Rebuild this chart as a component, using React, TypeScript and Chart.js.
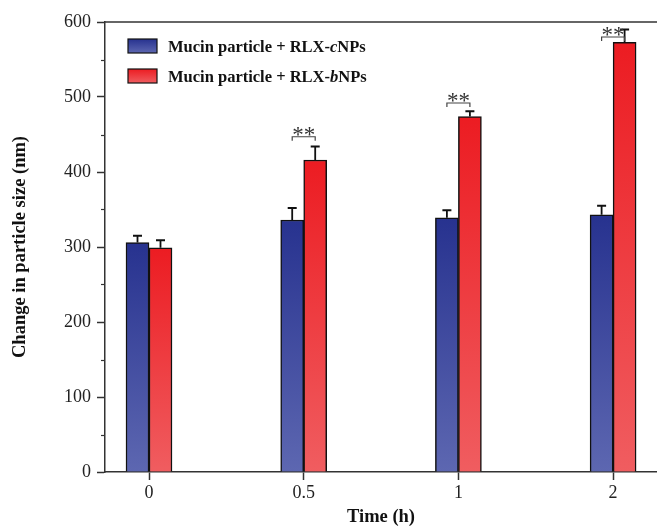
import React, { useEffect, useRef } from "react";
import { Chart, registerables } from "chart.js";

Chart.register(...registerables);

const categories = ["0", "0.5", "1", "2"];
const seriesNames = ["Mucin particle + RLX-", "Mucin particle + RLX-"];
const seriesItalic = ["c", "b"];
const seriesSuffix = ["NPs", "NPs"];
const cValues = [306, 336, 339, 343];
const cErrors = [9, 16, 10, 12];
const bValues = [299, 416, 474, 573];
const bErrors = [10, 18, 7, 17];
const sigLabels = ["", "**", "**", "**"];
const sigHeights = [null, 447, 492, 580];
const yTicks = [0, 100, 200, 300, 400, 500, 600];

const FONT = "'Liberation Serif', 'Times New Roman', serif";
const BLUE_TOP = "#27328f";
const BLUE_BOT = "#5d67b1";
const RED_TOP = "#ec1c22";
const RED_BOT = "#f05d60";

function gradFor(top: string, bot: string) {
  return (ctx: any) => {
    const chart = ctx.chart;
    const y = chart.scales?.y;
    if (!y || ctx.parsed == null || ctx.parsed.y == null) return top;
    const y0 = y.getPixelForValue(ctx.parsed.y);
    const y1 = y.getPixelForValue(0);
    if (!isFinite(y0) || !isFinite(y1) || y0 === y1) return top;
    const g = chart.ctx.createLinearGradient(0, y0, 0, y1);
    g.addColorStop(0, top);
    g.addColorStop(1, bot);
    return g;
  };
}

const overlayPlugin = {
  id: "overlay",
  afterDatasetsDraw(chart: any) {
    const { ctx, chartArea, scales } = chart;
    const x = scales.x;
    const y = scales.y;
    ctx.save();
    // top frame line
    ctx.strokeStyle = "#333";
    ctx.lineWidth = 1.5;
    ctx.beginPath();
    ctx.moveTo(chartArea.left, chartArea.top);
    ctx.lineTo(chart.width, chartArea.top);
    ctx.stroke();
    // minor y ticks
    ctx.lineWidth = 1.2;
    for (let i = 0; i < yTicks.length - 1; i++) {
      const v = (yTicks[i] + yTicks[i + 1]) / 2;
      const py = Math.round(y.getPixelForValue(v)) + 0.5;
      ctx.beginPath();
      ctx.moveTo(chartArea.left - 4, py);
      ctx.lineTo(chartArea.left, py);
      ctx.stroke();
    }
    // error bars
    const half = 11.5;
    const drawErr = (cx: number, v: number, e: number) => {
      const pTop = y.getPixelForValue(v + e);
      const pBar = y.getPixelForValue(v);
      ctx.strokeStyle = "#111";
      ctx.lineWidth = 1.8;
      ctx.beginPath();
      ctx.moveTo(cx, pBar);
      ctx.lineTo(cx, pTop);
      ctx.moveTo(cx - 4.5, pTop);
      ctx.lineTo(cx + 4.5, pTop);
      ctx.stroke();
    };
    for (let i = 0; i < categories.length; i++) {
      const cx = x.getPixelForValue(i);
      drawErr(cx - half, cValues[i], cErrors[i]);
      drawErr(cx + half, bValues[i], bErrors[i]);
      const h = sigHeights[i];
      if (h != null && sigLabels[i]) {
        const py = y.getPixelForValue(h);
        ctx.strokeStyle = "#444";
        ctx.lineWidth = 1.2;
        ctx.beginPath();
        ctx.moveTo(cx - half, py + 4);
        ctx.lineTo(cx - half, py);
        ctx.lineTo(cx + half, py);
        ctx.lineTo(cx + half, py + 4);
        ctx.stroke();
        ctx.fillStyle = "#333";
        ctx.font = `23px ${FONT}`;
        ctx.textAlign = "center";
        ctx.textBaseline = "alphabetic";
        ctx.fillText(sigLabels[i], cx, py + 5);
      }
    }
    // legend
    const boxes = [
      { top: BLUE_TOP, bot: BLUE_BOT },
      { top: RED_TOP, bot: RED_BOT },
    ];
    for (let k = 0; k < 2; k++) {
      const bx = 128;
      const by = 39 + k * 30;
      const g = ctx.createLinearGradient(0, by, 0, by + 14);
      g.addColorStop(0, boxes[k].top);
      g.addColorStop(1, boxes[k].bot);
      ctx.fillStyle = g;
      ctx.fillRect(bx, by, 29, 14);
      ctx.strokeStyle = "#111";
      ctx.lineWidth = 1.2;
      ctx.strokeRect(bx, by, 29, 14);
      let tx = 168;
      const base = by + 12.5;
      ctx.fillStyle = "#111";
      ctx.textAlign = "left";
      ctx.textBaseline = "alphabetic";
      ctx.font = `bold 16.5px ${FONT}`;
      ctx.fillText(seriesNames[k], tx, base);
      tx += ctx.measureText(seriesNames[k]).width;
      ctx.font = `italic bold 16.5px ${FONT}`;
      ctx.fillText(seriesItalic[k], tx, base);
      tx += ctx.measureText(seriesItalic[k]).width;
      ctx.font = `bold 16.5px ${FONT}`;
      ctx.fillText(seriesSuffix[k], tx, base);
    }
    ctx.restore();
  },
};

export default function App() {
  const ref = useRef<HTMLCanvasElement | null>(null);
  useEffect(() => {
    if (!ref.current) return;
    const unit = 154.7;
    const left = 105;
    const right = 657;
    const zeroPx = 149;
    const xmin = -(zeroPx - left) / unit;
    const xmax = (right - zeroPx) / unit;
    const chart = new Chart(ref.current, {
      type: "bar",
      data: {
        datasets: [
          {
            label: seriesNames[0] + seriesItalic[0] + seriesSuffix[0],
            data: cValues.map((v, i) => ({ x: i, y: v })),
            backgroundColor: gradFor(BLUE_TOP, BLUE_BOT),
            borderColor: "#111",
            borderWidth: 1.5,
            barThickness: 23,
          },
          {
            label: seriesNames[1] + seriesItalic[1] + seriesSuffix[1],
            data: bValues.map((v, i) => ({ x: i, y: v })),
            backgroundColor: gradFor(RED_TOP, RED_BOT),
            borderColor: "#111",
            borderWidth: 1.5,
            barThickness: 23,
          },
        ],
      },
      options: {
        animation: false,
        responsive: false,
        maintainAspectRatio: false,
        layout: { padding: { top: 22, right: 0, left: 0, bottom: 0 } },
        plugins: { legend: { display: false }, tooltip: { enabled: false } },
        scales: {
          x: {
            type: "linear",
            offset: false,
            min: xmin,
            max: xmax,
            afterBuildTicks: (s: any) => {
              s.ticks = categories.map((_, i) => ({ value: i }));
            },
            afterFit: (s: any) => {
              s.height = 56;
            },
            ticks: {
              callback: (v: any) => categories[Math.round(Number(v))] ?? "",
              font: { family: FONT, size: 18 },
              color: "#222",
              padding: 2,
              maxRotation: 0,
              autoSkip: false,
            },
            grid: { offset: false, drawOnChartArea: false, tickLength: 8, tickColor: "#333", tickWidth: 1.5 },
            border: { color: "#333", width: 1.5 },
            title: {
              display: true,
              text: "Time (h)",
              font: { family: FONT, size: 18.5, weight: "bold" },
              color: "#111",
              padding: { top: 0, bottom: 0 },
            },
          },
          y: {
            min: 0,
            max: 600,
            afterBuildTicks: (s: any) => {
              s.ticks = yTicks.map((v) => ({ value: v }));
            },
            afterFit: (s: any) => {
              s.width = 105;
            },
            ticks: {
              font: { family: FONT, size: 18 },
              color: "#222",
              padding: 6,
            },
            grid: { drawOnChartArea: false, tickLength: 8, tickColor: "#333", tickWidth: 1.5 },
            border: { color: "#333", width: 1.5 },
            title: {
              display: true,
              text: "Change in particle size (nm)",
              font: { family: FONT, size: 18.5, weight: "bold" },
              color: "#111",
              padding: { top: 9, bottom: 0 },
            },
          },
        },
      } as any,
      plugins: [overlayPlugin],
    });
    return () => chart.destroy();
  }, []);
  return (
    <div style={{ position: "absolute", left: 0, top: 0, width: 657, height: 528, background: "#fff" }}>
      <canvas ref={ref} width={657} height={528} style={{ display: "block" }} />
    </div>
  );
}
